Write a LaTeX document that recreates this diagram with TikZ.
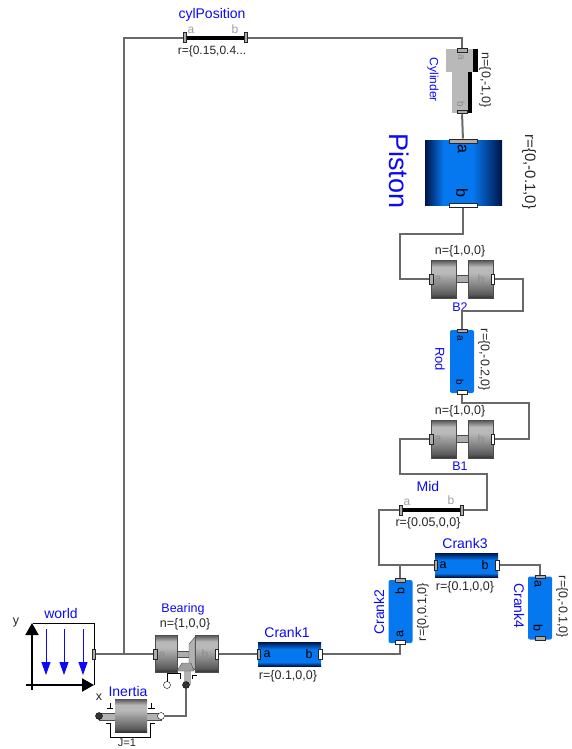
\documentclass[tikz,border=0pt]{standalone}
\usepackage{fontspec}
\setmainfont{Liberation Sans}
\usetikzlibrary{arrows.meta, calc}
\definecolor{figB}{RGB}{10,10,245}
\definecolor{figW}{RGB}{105,105,105}
\definecolor{figS}{RGB}{5,120,240}
\definecolor{figD}{RGB}{0,20,70}
\definecolor{figG}{RGB}{185,185,185}
\definecolor{figK}{RGB}{50,50,50}
\pgfdeclareverticalshading{drumshade}{100bp}{color(0bp)=(figK); color(25bp)=(figK); color(30bp)=(figK!70!figG);
  color(58bp)=(figG); color(66bp)=(figG); color(75bp)=(figK!75!figG); color(100bp)=(figK!75!figG)}
\pgfdeclareverticalshading{hlinkshade}{100bp}{color(0bp)=(figD); color(25bp)=(figD); color(33bp)=(figS);
  color(60bp)=(figS); color(75bp)=(figD); color(100bp)=(figD)}
\pgfdeclarehorizontalshading{pistonshade}{100bp}{color(0bp)=(figD); color(25bp)=(figD); color(37bp)=(figS);
  color(56bp)=(figS); color(75bp)=(figD); color(100bp)=(figD)}
\tikzset{
  wire/.style={draw=figW, line width=2pt},
  bluetxt/.style={text=figB, inner sep=0pt, font=\fontsize{14}{14}\selectfont},
  blacktxt/.style={text=black!85, inner sep=0pt, font=\fontsize{12.5}{14}\selectfont},
  greytxt/.style={text=gray!75, inner sep=0pt, font=\fontsize{12}{14}\selectfont},
  drumtxt/.style={text=black!45, inner sep=0pt, font=\fontsize{12}{14}\selectfont},
  pintxt/.style={text=black, inner sep=0pt, font=\fontsize{12.5}{14}\selectfont},
  pinA/.style={draw=black!85, fill=gray!65, line width=1pt, inner sep=0pt},
  pinB/.style={draw=black!85, fill=white, line width=1pt, inner sep=0pt},
  hpin/.style={minimum width=3.5pt, minimum height=10pt},
  vpin/.style={minimum width=10pt, minimum height=3.5pt},
  drum/.style={draw=black!70, inner sep=0pt, line width=0.8pt, minimum width=25pt, minimum height=38pt, shading=drumshade},
  hlink/.style={draw=none, inner sep=0pt, minimum width=63pt, minimum height=24pt, shading=hlinkshade},
  vlink/.style={fill=figS, inner sep=0pt, minimum width=24pt, minimum height=63pt, rounded corners=2pt},
  bar/.style={fill=black, inner sep=0pt, minimum height=4pt, minimum width=61pt},
  flangeA/.style={circle, draw=black, fill=gray!40!black, inner sep=0pt, minimum size=7pt},
  flangeB/.style={circle, draw=black, fill=white, inner sep=0pt, minimum size=7pt},
}
\begin{document}
\begin{tikzpicture}[x=1pt, y=-1pt]
\useasboundingbox (0,0) rectangle (571,749);
% ===== world frame =====
\draw[line width=1pt] (33,623) -- (94,623) -- (94,685);
\draw[line width=2pt, -{Triangle[length=12pt,width=13pt]}] (32,690) -- (32,623);
\draw[line width=2pt, -{Triangle[length=12pt,width=13pt]}] (26,685) -- (94,685);
\foreach \px in {46,64,83}
  \draw[figB, line width=1pt, -{Triangle[length=13pt,width=9pt]}] (\px,629) -- (\px,675);
\node[pinA, hpin] (worldPin) at (94,654) {};
\node[bluetxt] (worldLbl) at (61,613) {world};
\node[blacktxt] (yLbl) at (16,622) {y};
\node[blacktxt] (xLbl) at (99,697) {x};
% ===== cylPosition =====
\node[bar] (cylBar) at (215.5,38) {};
\node[pinA, hpin] (cylA) at (185,38) {};
\node[pinA, hpin] (cylB) at (246,38) {};
\node[greytxt] (cylATxt) at (191,30) {a};
\node[greytxt] (cylBTxt) at (235,29) {b};
\node[bluetxt] (cylLbl) at (212,15) {cylPosition};
\node[blacktxt, font=\fontsize{12}{14}\selectfont] (cylR) at (212,51) {r=\{0.15,0.4...};
% ===== Cylinder =====
\fill[black] (473,49) rectangle (478,72);
\fill[black] (468,72) rectangle (472,113);
\node[fill=figG, inner sep=0pt, minimum width=27pt, minimum height=23pt] (cylTop) at (459.5,60.5) {};
\node[fill=figG, inner sep=0pt, minimum width=16pt, minimum height=41pt] (cylRod) at (460,92.5) {};
\node[pinA, vpin] (cyA) at (462,50.5) {};
\node[pinA, vpin] (cyB) at (462,112) {};
\node[drumtxt, rotate=-90, font=\fontsize{10}{12}\selectfont] (cyATxt) at (461,57) {a};
\node[drumtxt, rotate=-90, font=\fontsize{10}{12}\selectfont] (cyBTxt) at (461,104) {b};
\node[bluetxt, rotate=-90, font=\fontsize{12}{14}\selectfont] (cyLbl) at (433,80) {Cylinder};
\node[blacktxt, rotate=-90] (cyN) at (485,80) {n=\{0,-1,0\}};
% ===== Piston =====
\node[draw=none, inner sep=0pt, minimum width=77pt, minimum height=65pt, shading=pistonshade] (pistonBody) at (463.5,172.5) {};
\node[pinA, minimum width=28pt, minimum height=4pt] (pistonA) at (463,141) {};
\node[pinB, minimum width=28pt, minimum height=4pt] (pistonB) at (463,205) {};
\node[pintxt, rotate=-90, font=\fontsize{16}{16}\selectfont] (pistonATxt) at (462,149) {a};
\node[pintxt, rotate=-90, font=\fontsize{16}{16}\selectfont] (pistonBTxt) at (462,193) {b};
\node[bluetxt, rotate=-90, font=\fontsize{27}{27}\selectfont] (pistonLbl) at (399,171) {Piston};
\node[blacktxt, rotate=-90, font=\fontsize{15}{15}\selectfont] (pistonR) at (529,172) {r=\{0,-0.1,0\}};
% ===== B2 =====
\fill[gray!65, draw=black!70] (456,275) rectangle (468,282);
\node[drum] (b2L) at (443.5,279) {};
\node[drum] (b2R) at (480.5,279) {};
\node[pinA, hpin] (b2A) at (431.5,279) {};
\node[pinB, hpin] (b2B) at (493,279) {};
\node[drumtxt] (b2ATxt) at (438,279) {a};
\node[drumtxt] (b2BTxt) at (481,279) {b};
\node[blacktxt] (b2N) at (460,251) {n=\{1,0,0\}};
\node[bluetxt, font=\fontsize{12.5}{14}\selectfont] (b2Lbl) at (460,307) {B2};
% ===== Rod =====
\node[vlink] (rodBody) at (462,361.5) {};
\node[pinA, vpin] (rodA) at (462,331) {};
\node[pinB, vpin] (rodB) at (462,392.5) {};
\node[pintxt, rotate=-90, font=\fontsize{10}{12}\selectfont] (rodATxt) at (460,338) {a};
\node[pintxt, rotate=-90, font=\fontsize{10}{12}\selectfont] (rodBTxt) at (460,382) {b};
\node[bluetxt, rotate=-90, font=\fontsize{13}{14}\selectfont] (rodLbl) at (440,359) {Rod};
\node[blacktxt, rotate=-90] (rodR) at (484,360) {r=\{0,-0.2,0\}};
% ===== B1 =====
\fill[gray!65, draw=black!70] (456,435) rectangle (468,442);
\node[drum] (b1L) at (443.5,439) {};
\node[drum] (b1R) at (480.5,439) {};
\node[pinA, hpin] (b1A) at (431.5,439) {};
\node[pinB, hpin] (b1B) at (493,439) {};
\node[drumtxt] (b1ATxt) at (438,439) {a};
\node[drumtxt] (b1BTxt) at (481,439) {b};
\node[blacktxt] (b1N) at (460,411) {n=\{1,0,0\}};
\node[bluetxt, font=\fontsize{12.5}{14}\selectfont] (b1Lbl) at (460,466) {B1};
% ===== Mid =====
\node[bar] (midBar) at (431.5,510) {};
\node[pinA, hpin] (midA) at (401,510) {};
\node[pinA, hpin] (midB) at (462,510) {};
\node[greytxt] (midATxt) at (407,502) {a};
\node[greytxt] (midBTxt) at (451,500) {b};
\node[bluetxt] (midLbl) at (428,486) {Mid};
\node[blacktxt] (midR) at (428,523) {r=\{0.05,0,0\}};
% ===== Crank3 =====
\node[hlink] (crankThreeBody) at (466.5,565) {};
\node[pinA, hpin] (crankThreeA) at (436,565) {};
\node[pinB, hpin] (crankThreeB) at (497.5,565) {};
\node[pintxt] (crankThreeATxt) at (443,565) {a};
\node[pintxt] (crankThreeBTxt) at (485,565) {b};
\node[bluetxt] (crankThreeLbl) at (465,543) {Crank3};
\node[blacktxt] (crankThreeR) at (465,587) {r=\{0.1,0,0\}};
% ===== Crank4 =====
\node[vlink] (crankFourBody) at (540,608) {};
\node[pinA, vpin] (crankFourA) at (540,577) {};
\node[pinA, vpin] (crankFourB) at (540,638.5) {};
\node[pintxt, rotate=-90] (crankFourATxt) at (538,584) {a};
\node[pintxt, rotate=-90] (crankFourBTxt) at (538,628) {b};
\node[bluetxt, rotate=-90] (crankFourLbl) at (519,606) {Crank4};
\node[blacktxt, rotate=-90] (crankFourR) at (562,607) {r=\{0,-0.1,0\}};
% ===== Crank2 =====
\node[vlink] (crankTwoBody) at (400.5,611.5) {};
\node[pinA, vpin] (crankTwoB) at (400,580.5) {};
\node[pinB, vpin] (crankTwoA) at (400,642.5) {};
\node[pintxt, rotate=90] (crankTwoBTxt) at (400,591) {b};
\node[pintxt, rotate=90] (crankTwoATxt) at (400,634) {a};
\node[bluetxt, rotate=90] (crankTwoLbl) at (379,612) {Crank2};
\node[blacktxt, rotate=90] (crankTwoR) at (423,612) {r=\{0,0.1,0\}};
% ===== Crank1 =====
\node[hlink] (crankOneBody) at (289.5,654) {};
\node[pinA, hpin] (crankOneA) at (259,654) {};
\node[pinB, hpin] (crankOneB) at (320.5,654) {};
\node[pintxt] (crankOneATxt) at (267,654) {a};
\node[pintxt] (crankOneBTxt) at (309,654) {b};
\node[bluetxt] (crankOneLbl) at (287,632) {Crank1};
\node[blacktxt] (crankOneR) at (288,676) {r=\{0.1,0,0\}};
% ===== Bearing, with its small actuator below =====
\draw[line width=0.8pt] (167,685) -- (167,673) -- (180,673) -- (180,679);
\draw[line width=0.8pt] (192,679) -- (192,675) -- (197,675);
\fill[gray!65, draw=black!70] (177,651) rectangle (190,657);
\node[drum, minimum width=22pt, minimum height=37pt] (bearingL) at (166,653.5) {};
\node[drum, minimum width=23pt, minimum height=37pt] (bearingR) at (206.5,653.5) {};
\draw[draw=black!70, fill=gray!60] (189,644) -- (195,637) -- (195,670) -- (189,664) -- cycle;
\fill[gray!60] (183.5,671) rectangle (190.5,685);
\draw[draw=black!70, fill=gray!75] (182,663) -- (191,663) -- (194,671) -- (177,671) -- cycle;
\node[pinA, hpin] (bearingA) at (155.5,654) {};
\node[pinB, hpin] (bearingB) at (217,654) {};
\node[drumtxt] (bearingATxt) at (162,655) {a};
\node[drumtxt] (bearingBTxt) at (205,654) {b};
\node[bluetxt, font=\fontsize{12.5}{14}\selectfont] (bearingLbl) at (183,609) {Bearing};
\node[blacktxt] (bearingN) at (185,624) {n=\{1,0,0\}};
\node[flangeB] (bearingFree) at (167,685) {};
\node[flangeA] (bearingDrive) at (186,685) {};
% ===== Inertia =====
\fill[gray!60, draw=black!70] (99,713) rectangle (161,720);
\draw[line width=0.8pt] (107,708) -- (113,708) (110,703) -- (110,708);
\draw[line width=0.8pt] (148,708) -- (155,708) (151.5,703) -- (151.5,708);
\draw[line width=0.8pt] (106,723) -- (110,723) -- (110,737) -- (150,737) -- (150,723) -- (155,723);
\node[draw=none, inner sep=0pt, minimum width=32pt, minimum height=33pt, shading=drumshade] (inertiaBody) at (131,715.5) {};
\node[flangeA] (inertiaA) at (99,716) {};
\node[flangeB] (inertiaB) at (161,716) {};
\node[bluetxt] (inertiaLbl) at (128,691) {Inertia};
\node[blacktxt, font=\fontsize{11}{12}\selectfont] (inertiaJ) at (127,743) {J=1};
% ===== corners of the wires =====
\coordinate (busJoint) at (124,654);
\coordinate (pistonTurn) at (400,234);
\coordinate (b2Turn) at (523,311);
\coordinate (rodTurn) at (529,403);
\coordinate (b1Turn) at (400,474);
\coordinate (b1Back) at (487,474);
\coordinate (midTurn) at (379,565);
\coordinate (crankJoint) at (400,565);
% ===== connections =====
\draw[wire] (worldPin) -- (bearingA);
\draw[wire] (busJoint) |- (cylA);
\draw[wire] (cylB) -| (cyA);
\draw[wire] (cyB) -- (pistonA);
\draw[wire] (pistonB) |- (pistonTurn) |- (b2A);
\draw[wire] (b2B) -| (b2Turn) -| (rodA);
\draw[wire] (rodB) |- (rodTurn) |- (b1B);
\draw[wire] (b1A) -| (b1Turn) -| (b1Back) |- (midB);
\draw[wire] (midA) -| (midTurn) -- (crankThreeA);
\draw[wire] (crankJoint) -- (crankTwoB);
\draw[wire] (crankThreeB) -| (crankFourA);
\draw[wire] (crankTwoA) |- (crankOneB);
\draw[wire] (crankOneA) -- (bearingB);
\draw[wire, line width=1.2pt] (bearingDrive) |- (inertiaB);
\end{tikzpicture}
\end{document}
